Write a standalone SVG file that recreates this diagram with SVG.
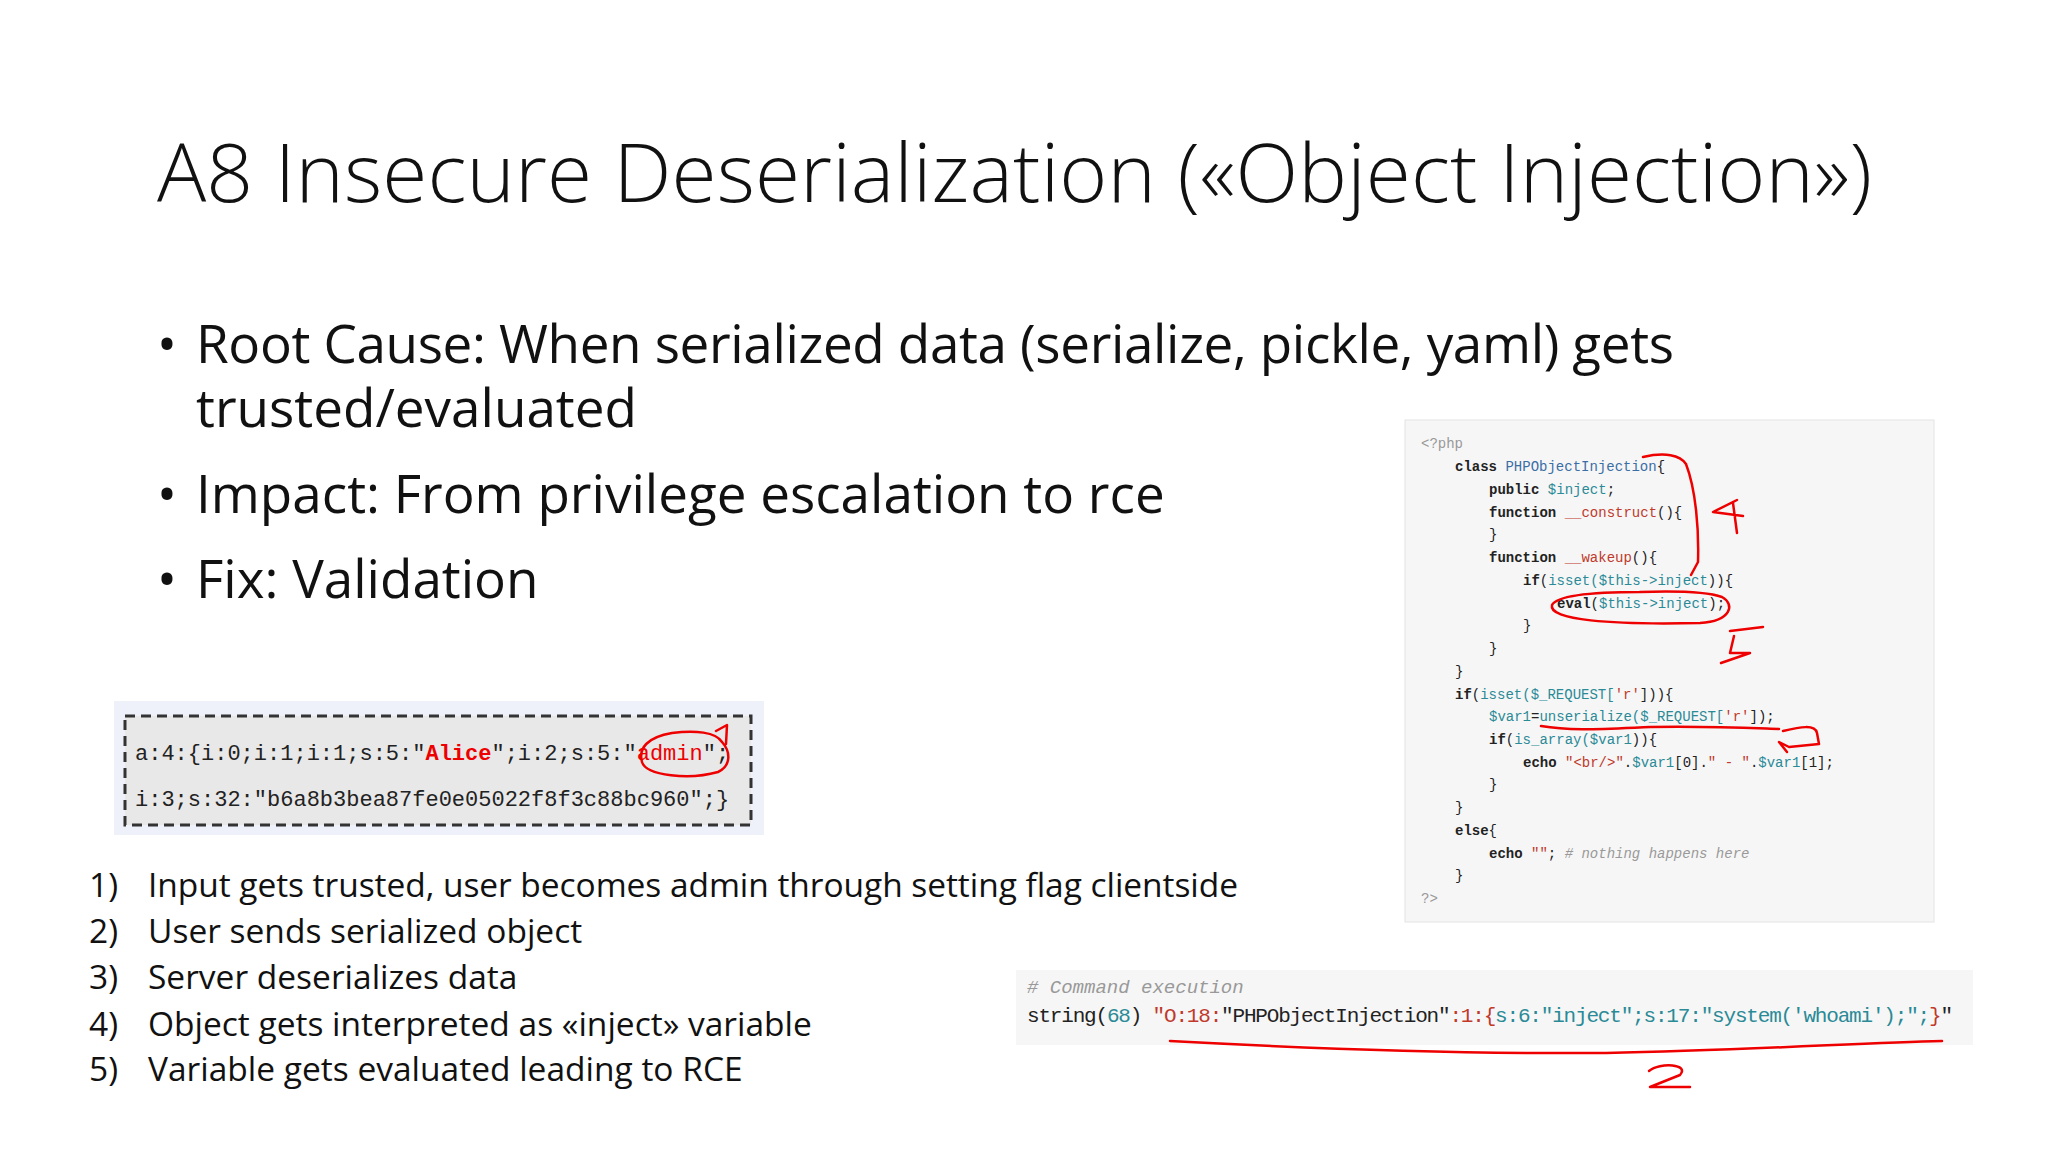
<svg xmlns="http://www.w3.org/2000/svg" width="2048" height="1152" viewBox="0 0 2048 1152">
<style>
.t{font-family:"Open Sans","Liberation Sans",sans-serif;fill:#111}
.c{font-family:"Liberation Mono",monospace;font-size:14px;fill:#222}
.k{font-weight:bold}
.v{fill:#2a8a96}
.n{fill:#3a6ea5}
.s{fill:#c0392b}
.g{fill:#999;font-style:italic}
.r{fill:none;stroke:#e00;stroke-width:2.5;stroke-linecap:round;stroke-linejoin:round}
</style>
<rect width="2048" height="1152" fill="#fff"/>
<text class="t" x="157" y="202" font-size="82" font-weight="300" textLength="1715">A8 Insecure Deserialization («Object Injection»)</text>
<g id="bullets" class="t" font-size="53">
<text x="157" y="363">•</text><text x="196" y="363" textLength="1478">Root Cause: When serialized data (serialize, pickle, yaml) gets</text>
<text x="196" y="427">trusted/evaluated</text>
<text x="157" y="513">•</text><text x="196" y="513">Impact: From privilege escalation to rce</text>
<text x="157" y="598">•</text><text x="196" y="598">Fix: Validation</text>
</g>
<g id="serialized">
<rect x="114" y="701" width="650" height="134" fill="#eef0fa"/>
<rect x="125" y="716" width="626" height="109" fill="#e8e8e8" stroke="#333" stroke-width="3" stroke-dasharray="10,6"/>
<text x="135" y="760" font-family="Liberation Mono,monospace" font-size="22" fill="#222">a:4:{i:0;i:1;i:1;s:5:"<tspan fill="#e00" font-weight="bold">Alice</tspan>";i:2;s:5:"<tspan fill="#e00">admin</tspan>";</text>
<text x="135" y="806" font-family="Liberation Mono,monospace" font-size="22" fill="#222">i:3;s:32:"b6a8b3bea87fe0e05022f8f3c88bc960";}</text>
<path class="r" d="M722,742 C716,732 695,730 672,733 C648,737 638,748 642,762 C646,776 690,780 718,772 C731,766 731,752 722,742 M716,731 L727,725 L726,744"/>
</g>
<g id="steps" class="t" font-size="33.5">
<text x="89" y="897">1)</text><text x="148" y="897" textLength="1090">Input gets trusted, user becomes admin through setting flag clientside</text>
<text x="89" y="943">2)</text><text x="148" y="943">User sends serialized object</text>
<text x="89" y="989">3)</text><text x="148" y="989">Server deserializes data</text>
<text x="89" y="1036">4)</text><text x="148" y="1036">Object gets interpreted as «inject» variable</text>
<text x="89" y="1081">5)</text><text x="148" y="1081">Variable gets evaluated leading to RCE</text>
</g>
<g id="code">
<rect x="1405" y="420" width="529" height="502" fill="#f6f6f6" stroke="#e4e4e4"/>
<text class="c" x="1421" y="448" style="fill:#999">&lt;?php</text>
<text class="c" x="1455" y="471"><tspan class="k">class</tspan> <tspan class="n">PHPObjectInjection</tspan>{</text>
<text class="c" x="1489" y="494"><tspan class="k">public</tspan> <tspan class="v">$inject</tspan>;</text>
<text class="c" x="1489" y="517"><tspan class="k">function</tspan> <tspan class="s">__construct</tspan>(){</text>
<text class="c" x="1489" y="539">}</text>
<text class="c" x="1489" y="562"><tspan class="k">function</tspan> <tspan class="s">__wakeup</tspan>(){</text>
<text class="c" x="1523" y="585"><tspan class="k">if</tspan>(<tspan class="v">isset($this-&gt;inject</tspan>)){</text>
<text class="c" x="1557" y="608"><tspan class="k">eval</tspan>(<tspan class="v">$this-&gt;inject</tspan>);</text>
<text class="c" x="1523" y="630">}</text>
<text class="c" x="1489" y="653">}</text>
<text class="c" x="1455" y="676">}</text>
<text class="c" x="1455" y="699"><tspan class="k">if</tspan>(<tspan class="v">isset($_REQUEST[</tspan><tspan class="s">'r'</tspan>])){</text>
<text class="c" x="1489" y="721"><tspan class="v">$var1</tspan>=<tspan class="v">unserialize($_REQUEST[</tspan><tspan class="s">'r'</tspan>]);</text>
<text class="c" x="1489" y="744"><tspan class="k">if</tspan>(<tspan class="v">is_array($var1</tspan>)){</text>
<text class="c" x="1523" y="767"><tspan class="k">echo</tspan> <tspan class="s">"&lt;br/&gt;"</tspan>.<tspan class="v">$var1</tspan>[0].<tspan class="s">" - "</tspan>.<tspan class="v">$var1</tspan>[1];</text>
<text class="c" x="1489" y="789">}</text>
<text class="c" x="1455" y="812">}</text>
<text class="c" x="1455" y="835"><tspan class="k">else</tspan>{</text>
<text class="c" x="1489" y="858"><tspan class="k">echo</tspan> <tspan class="s">""</tspan>; <tspan class="g"># nothing happens here</tspan></text>
<text class="c" x="1455" y="880">}</text>
<text class="c" x="1421" y="903" style="fill:#999">?&gt;</text>
<path class="r" d="M1643,457 C1665,452 1680,455 1686,464 C1696,490 1699,530 1698,562 L1691,575"/>
<path class="r" d="M1737,500 L1713,512 L1743,516 M1733,503 L1737,533"/>
<path class="r" d="M1640,592 C1600,592 1558,594 1552,605 C1548,620 1610,625 1700,623 C1732,621 1735,604 1722,597 C1705,591 1670,591 1640,592"/>
<path class="r" d="M1730,631 L1763,627 M1734,636 L1730,653 L1750,653 L1721,663"/>
<path class="r" d="M1541,726 C1570,731 1600,729 1650,727 C1710,726 1750,728 1779,729"/>
<path class="r" d="M1783,731 C1800,727 1815,724 1817,733 L1819,744 L1789,747 L1779,742 L1787,752"/>
</g>
<g id="command">
<rect x="1016" y="970" width="957" height="75" fill="#f6f6f6"/>
<text x="1027" y="993" font-family="Liberation Mono,monospace" font-size="19" fill="#999" font-style="italic"># Command execution</text>
<text x="1027" y="1022" font-family="Liberation Mono,monospace" font-size="21" fill="#222" textLength="926">string(<tspan fill="#2a8a96">68</tspan>) <tspan fill="#c0392b">"O:18:</tspan>"PHPObjectInjection"<tspan fill="#c0392b">:1:{</tspan><tspan fill="#2a8a96">s:6:"inject";s:17:"system('whoami');";</tspan><tspan fill="#c0392b">}</tspan>"</text>
<path class="r" d="M1170,1041 C1300,1048 1450,1054 1606,1053 C1750,1050 1860,1043 1942,1041"/>
<path class="r" d="M1649,1071 C1660,1062 1690,1064 1680,1075 L1650,1087 L1690,1087"/>
</g>
</svg>
